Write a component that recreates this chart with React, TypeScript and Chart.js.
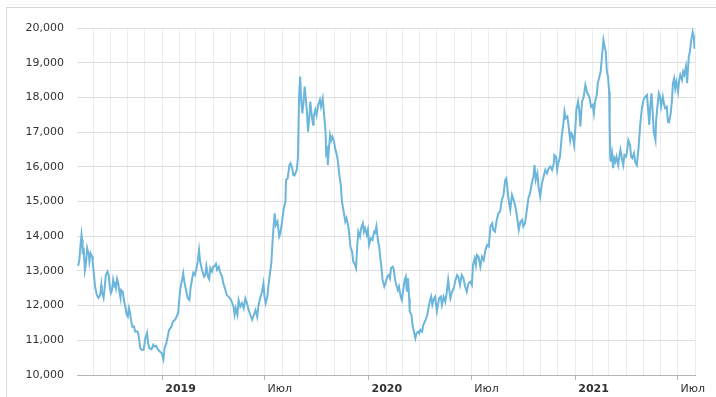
import React, { useEffect, useRef } from "react";
import { Chart, registerables } from "chart.js";

Chart.register(...registerables);

// Day offsets counted from BASE_DATE, and the index value on each day
const BASE_DATE = "2019-01-01";
const X_MIN_DATE = "2018-08-03";
const X_MAX_DATE = "2021-08-01";

const DAYS = [
  -149, -147, -145, -143, -142, -141, -139, -137, -135, -133,
  -130, -129, -127, -124, -123, -121, -119, -116, -113, -110,
  -108, -107, -104, -102, -100, -97, -95, -93, -91, -89,
  -87, -85, -84, -82, -80, -78, -76, -74, -73, -70,
  -68, -65, -63, -61, -59, -57, -55, -53, -50, -48,
  -44, -42, -39, -36, -33, -30, -27, -25, -23, -19,
  -16, -14, -11, -9, -7, -4, -1, 2, 4, 7,
  9, 12, 16, 19, 23, 28, 30, 32, 35, 37,
  39, 42, 45, 48, 50, 53, 55, 58, 61, 63,
  65, 67, 69, 71, 74, 76, 78, 81, 83, 85,
  88, 90, 93, 95, 97, 100, 102, 106, 108, 111,
  114, 117, 120, 123, 126, 128, 130, 133, 135, 138,
  141, 144, 147, 149, 153, 156, 159, 162, 165, 168,
  170, 173, 176, 179, 181, 183, 186, 188, 191, 193,
  195, 197, 199, 201, 204, 207, 209, 212, 215, 218,
  219, 222, 225, 227, 230, 232, 234, 238, 240, 241,
  242, 244, 246, 248, 250, 252, 254, 256, 258, 261,
  262, 265, 267, 268, 271, 273, 276, 279, 281, 284,
  286, 289, 290, 292, 293, 295, 297, 299, 301, 304,
  306, 309, 311, 313, 316, 318, 321, 324, 326, 329,
  331, 333, 336, 338, 340, 343, 345, 347, 350, 352,
  355, 357, 359, 362, 364, 366, 369, 372, 375, 377,
  379, 382, 384, 386, 388, 390, 393, 396, 398, 401,
  403, 405, 408, 410, 412, 415, 417, 419, 422, 424,
  427, 429, 431, 433, 435, 437, 438, 441, 443, 446,
  448, 450, 453, 455, 457, 460, 462, 466, 469, 471,
  474, 476, 478, 481, 483, 486, 488, 490, 493, 495,
  498, 501, 503, 506, 508, 510, 513, 516, 519, 522,
  524, 527, 530, 533, 536, 539, 542, 545, 548, 550,
  553, 555, 557, 560, 563, 566, 569, 572, 575, 578,
  581, 584, 586, 589, 592, 595, 598, 601, 604, 607,
  609, 612, 614, 616, 619, 622, 625, 628, 631, 634,
  637, 639, 642, 645, 648, 651, 654, 657, 659, 661,
  664, 666, 669, 672, 675, 678, 681, 684, 687, 690,
  693, 694, 697, 699, 701, 704, 707, 710, 712, 714,
  717, 719, 722, 724, 726, 729, 731, 733, 736, 738,
  740, 743, 746, 749, 752, 755, 757, 759, 762, 764,
  766, 769, 771, 773, 776, 778, 781, 783, 785, 787,
  789, 791, 792, 793, 794, 796, 798, 800, 802, 804,
  807, 809, 811, 814, 816, 818, 821, 823, 825, 828,
  830, 832, 835, 837, 840, 843, 846, 849, 852, 855,
  858, 860, 862, 864, 866, 868, 870, 873, 874, 877,
  879, 881, 883, 886, 888, 890, 893, 895, 897, 900,
  902, 904, 906, 908, 910, 913, 915, 917, 920, 922,
  924, 927, 929, 932, 934, 936, 939, 941, 942,
];

const PRICES = [
  13150, 13300, 13700, 14050, 13900, 13550, 13600, 13020, 13230, 13660,
  13460, 13270, 13510, 13410, 13230, 12880, 12550, 12310, 12220, 12310,
  12590, 12400, 12220, 12510, 12880, 12980, 12880, 12550, 12360, 12450,
  12740, 12550, 12690, 12510, 12770, 12650, 12400, 12220, 12450, 12400,
  12160, 11930, 11730, 11680, 11930, 11790, 11540, 11390, 11400, 11250,
  11260, 11150, 10770, 10720, 10730, 11060, 11220, 10910, 10770, 10740,
  10870, 10820, 10840, 10770, 10720, 10670, 10630, 10450, 10770, 10910,
  11060, 11300, 11390, 11540, 11600, 11780, 12160, 12500, 12740, 12930,
  12690, 12450, 12210, 12160, 12500, 12790, 12950, 12880, 13120, 13310,
  13600, 13270, 13120, 12980, 12830, 12880, 13140, 12830, 12760, 13080,
  12980, 13120, 13140, 13200, 13030, 13120, 12980, 12830, 12640, 12500,
  12310, 12260, 12210, 12110, 11970, 11730, 11920, 11730, 12160, 11970,
  12070, 11920, 12210, 12110, 11870, 11730, 11590, 11730, 11870, 11680,
  11970, 12210, 12360, 12640, 12260, 12070, 12260, 12590, 12980, 13220,
  13800, 14280, 14660, 14320, 14420, 13990, 14080, 14420, 14800, 15000,
  15620, 15670, 16050, 16100, 15960, 15760, 15750, 15910, 16250, 17010,
  17970, 18600, 17880, 17540, 17880, 18310, 17970, 17590, 17010, 17590,
  17880, 17400, 17210, 17450, 17640, 17490, 17780, 17930, 17730, 17970,
  17590, 17010, 16390, 16490, 16050, 16530, 16920, 16770, 16870, 16730,
  16530, 16340, 16150, 15810, 15480, 15000, 14710, 14420, 14520, 14320,
  14040, 13700, 13550, 13270, 13220, 13080, 13700, 14130, 13990, 14230,
  14370, 14130, 14230, 14040, 14180, 13750, 13940, 13890, 14130, 14100,
  14280, 13840, 13700, 13360, 13080, 12740, 12550, 12690, 12830, 12880,
  12790, 13080, 13120, 13030, 12740, 12550, 12450, 12550, 12260, 12160,
  12500, 12740, 12830, 12400, 12790, 12210, 11830, 11730, 11440, 11200,
  11060, 11200, 11250, 11200, 11300, 11250, 11440, 11590, 11730, 11920,
  12160, 12260, 12020, 12210, 12260, 11830, 12020, 12210, 12260, 12020,
  12260, 12110, 12310, 12740, 12450, 12210, 12400, 12500, 12740, 12880,
  12830, 12590, 12880, 12790, 12550, 12400, 12640, 12690, 12590, 13170,
  13360, 13170, 13460, 13400, 13120, 13410, 13310, 13600, 13750, 13700,
  14280, 14370, 14180, 14130, 14470, 14660, 14710, 15040, 15190, 15620,
  15670, 15190, 14950, 14760, 15190, 15040, 14850, 14560, 14180, 14420,
  14470, 14280, 14370, 14710, 15090, 15240, 15520, 15720, 16050, 15620,
  15810, 15430, 15140, 15520, 15720, 15910, 15810, 15960, 16010, 15910,
  16100, 16340, 16290, 15910, 16100, 16290, 16870, 17250, 17590, 17400,
  17450, 17210, 16770, 16970, 16920, 16630, 17060, 17640, 17880, 17640,
  17160, 17880, 18020, 18360, 18140, 18050, 17930, 17730, 17780, 17540,
  17880, 18070, 18410, 18550, 18740, 19130, 19650, 19460, 19320, 18740,
  18600, 18170, 17210, 16250, 16150, 16390, 15960, 16250, 16150, 16290,
  16050, 16290, 16490, 16200, 16050, 16340, 16290, 16490, 16770, 16630,
  16290, 16250, 16390, 16150, 16050, 16530, 17210, 17690, 17930, 18020,
  18070, 17640, 17210, 17780, 18120, 17590, 17010, 16770, 17300, 17830,
  18120, 18020, 17730, 18020, 17830, 17690, 17730, 17300, 17280, 17540,
  17880, 18410, 18550, 18260, 18450, 18170, 18500, 18650, 18500, 18740,
  18650, 18890, 18410, 19170, 19320, 19610, 19890, 19750, 19400,
];

const Y_MIN = 10000;
const Y_MAX = 20000;
const Y_STEP = 1000;
const TICK_YEARS = [2018, 2019, 2020, 2021];
const MID_YEAR_LABEL = "Июл";

const FONT = "'DejaVu Sans', Verdana, sans-serif";
const LINE_COLOR = "#6cb5db";

const dayMs = 86400000;
const baseMs = Date.parse(BASE_DATE + "T00:00:00Z");
const dayOf = (s: string) => Math.round((Date.parse(s + "T00:00:00Z") - baseMs) / dayMs);

export default function App() {
  const ref = useRef<HTMLCanvasElement | null>(null);

  useEffect(() => {
    if (!ref.current) return;
    const xMin = dayOf(X_MIN_DATE);
    const xMax = dayOf(X_MAX_DATE);

    const monthTicks: { value: number }[] = [];
    const labels = new Map<number, { text: string; bold: boolean }>();
    TICK_YEARS.forEach((y) => {
      for (let m = 0; m < 12; m++) {
        const d = Math.round((Date.UTC(y, m, 1) - baseMs) / dayMs);
        if (d < xMin || d > xMax) continue;
        monthTicks.push({ value: d });
        if (m === 0) labels.set(d, { text: String(y), bold: true });
        else if (m === 6) labels.set(d, { text: MID_YEAR_LABEL, bold: false });
      }
    });

    const points = DAYS.map((d, i) => ({ x: d, y: PRICES[i] }));

    const chart = new Chart(ref.current, {
      type: "line",
      data: {
        datasets: [
          {
            data: points,
            borderColor: LINE_COLOR,
            borderWidth: 2,
            pointRadius: 0,
            tension: 0,
            fill: false,
          },
        ],
      },
      options: {
        animation: false,
        responsive: false,
        maintainAspectRatio: false,
        layout: { padding: { top: 28, right: 21, left: 0, bottom: 0 } },
        plugins: { legend: { display: false }, tooltip: { enabled: false } },
        scales: {
          x: {
            type: "linear",
            min: xMin,
            max: xMax,
            afterBuildTicks: (s: any) => {
              s.ticks = monthTicks.map((t) => ({ value: t.value }));
            },
            afterFit: (s: any) => {
              s.height = 22;
            },
            border: { display: true, color: "#b4b4b4", width: 1 },
            grid: {
              color: "#ececec",
              lineWidth: 1,
              drawTicks: true,
              tickLength: 5,
              tickColor: (ctx: any) =>
                ctx.tick && labels.has(ctx.tick.value) ? "#b4b4b4" : "rgba(0,0,0,0)",
            },
            ticks: {
              autoSkip: false,
              maxRotation: 0,
              minRotation: 0,
              align: "start",
              labelOffset: 3,
              padding: 3,
              color: "#333",
              font: (ctx: any) => {
                const l = ctx.tick ? labels.get(ctx.tick.value) : undefined;
                return { family: FONT, size: 11, weight: l && l.bold ? "bold" : "normal" };
              },
              callback: (v: any) => {
                const l = labels.get(Number(v));
                return l ? l.text : "";
              },
            },
          },
          y: {
            min: Y_MIN,
            max: Y_MAX,
            afterFit: (s: any) => {
              s.width = 77;
            },
            border: { display: false },
            grid: { color: "#dedede", lineWidth: 1, drawTicks: false },
            ticks: {
              stepSize: Y_STEP,
              padding: 13,
              color: "#333",
              font: { family: FONT, size: 11 },
              callback: (v: any) => String(v).replace(/\B(?=(\d{3})+(?!\d))/g, ","),
            },
          },
        },
      },
    });
    return () => chart.destroy();
  }, []);

  return (
    <div
      style={{
        position: "fixed",
        left: 0,
        top: 0,
        width: 716,
        height: 397,
        overflow: "hidden",
        background: "#fff",
      }}
    >
      <div
        style={{
          position: "absolute",
          left: 6,
          top: 4,
          width: 800,
          height: 0,
          borderTop: "1px solid #f3f3f3",
        }}
      />
      <div
        style={{
          position: "absolute",
          left: 6,
          top: 7,
          width: 800,
          height: 500,
          border: "1px solid #d8d8d8",
        }}
      />
      <canvas
        ref={ref}
        width={716}
        height={397}
        style={{ position: "absolute", left: 0, top: 0, width: 716, height: 397, display: "block" }}
      />
    </div>
  );
}
